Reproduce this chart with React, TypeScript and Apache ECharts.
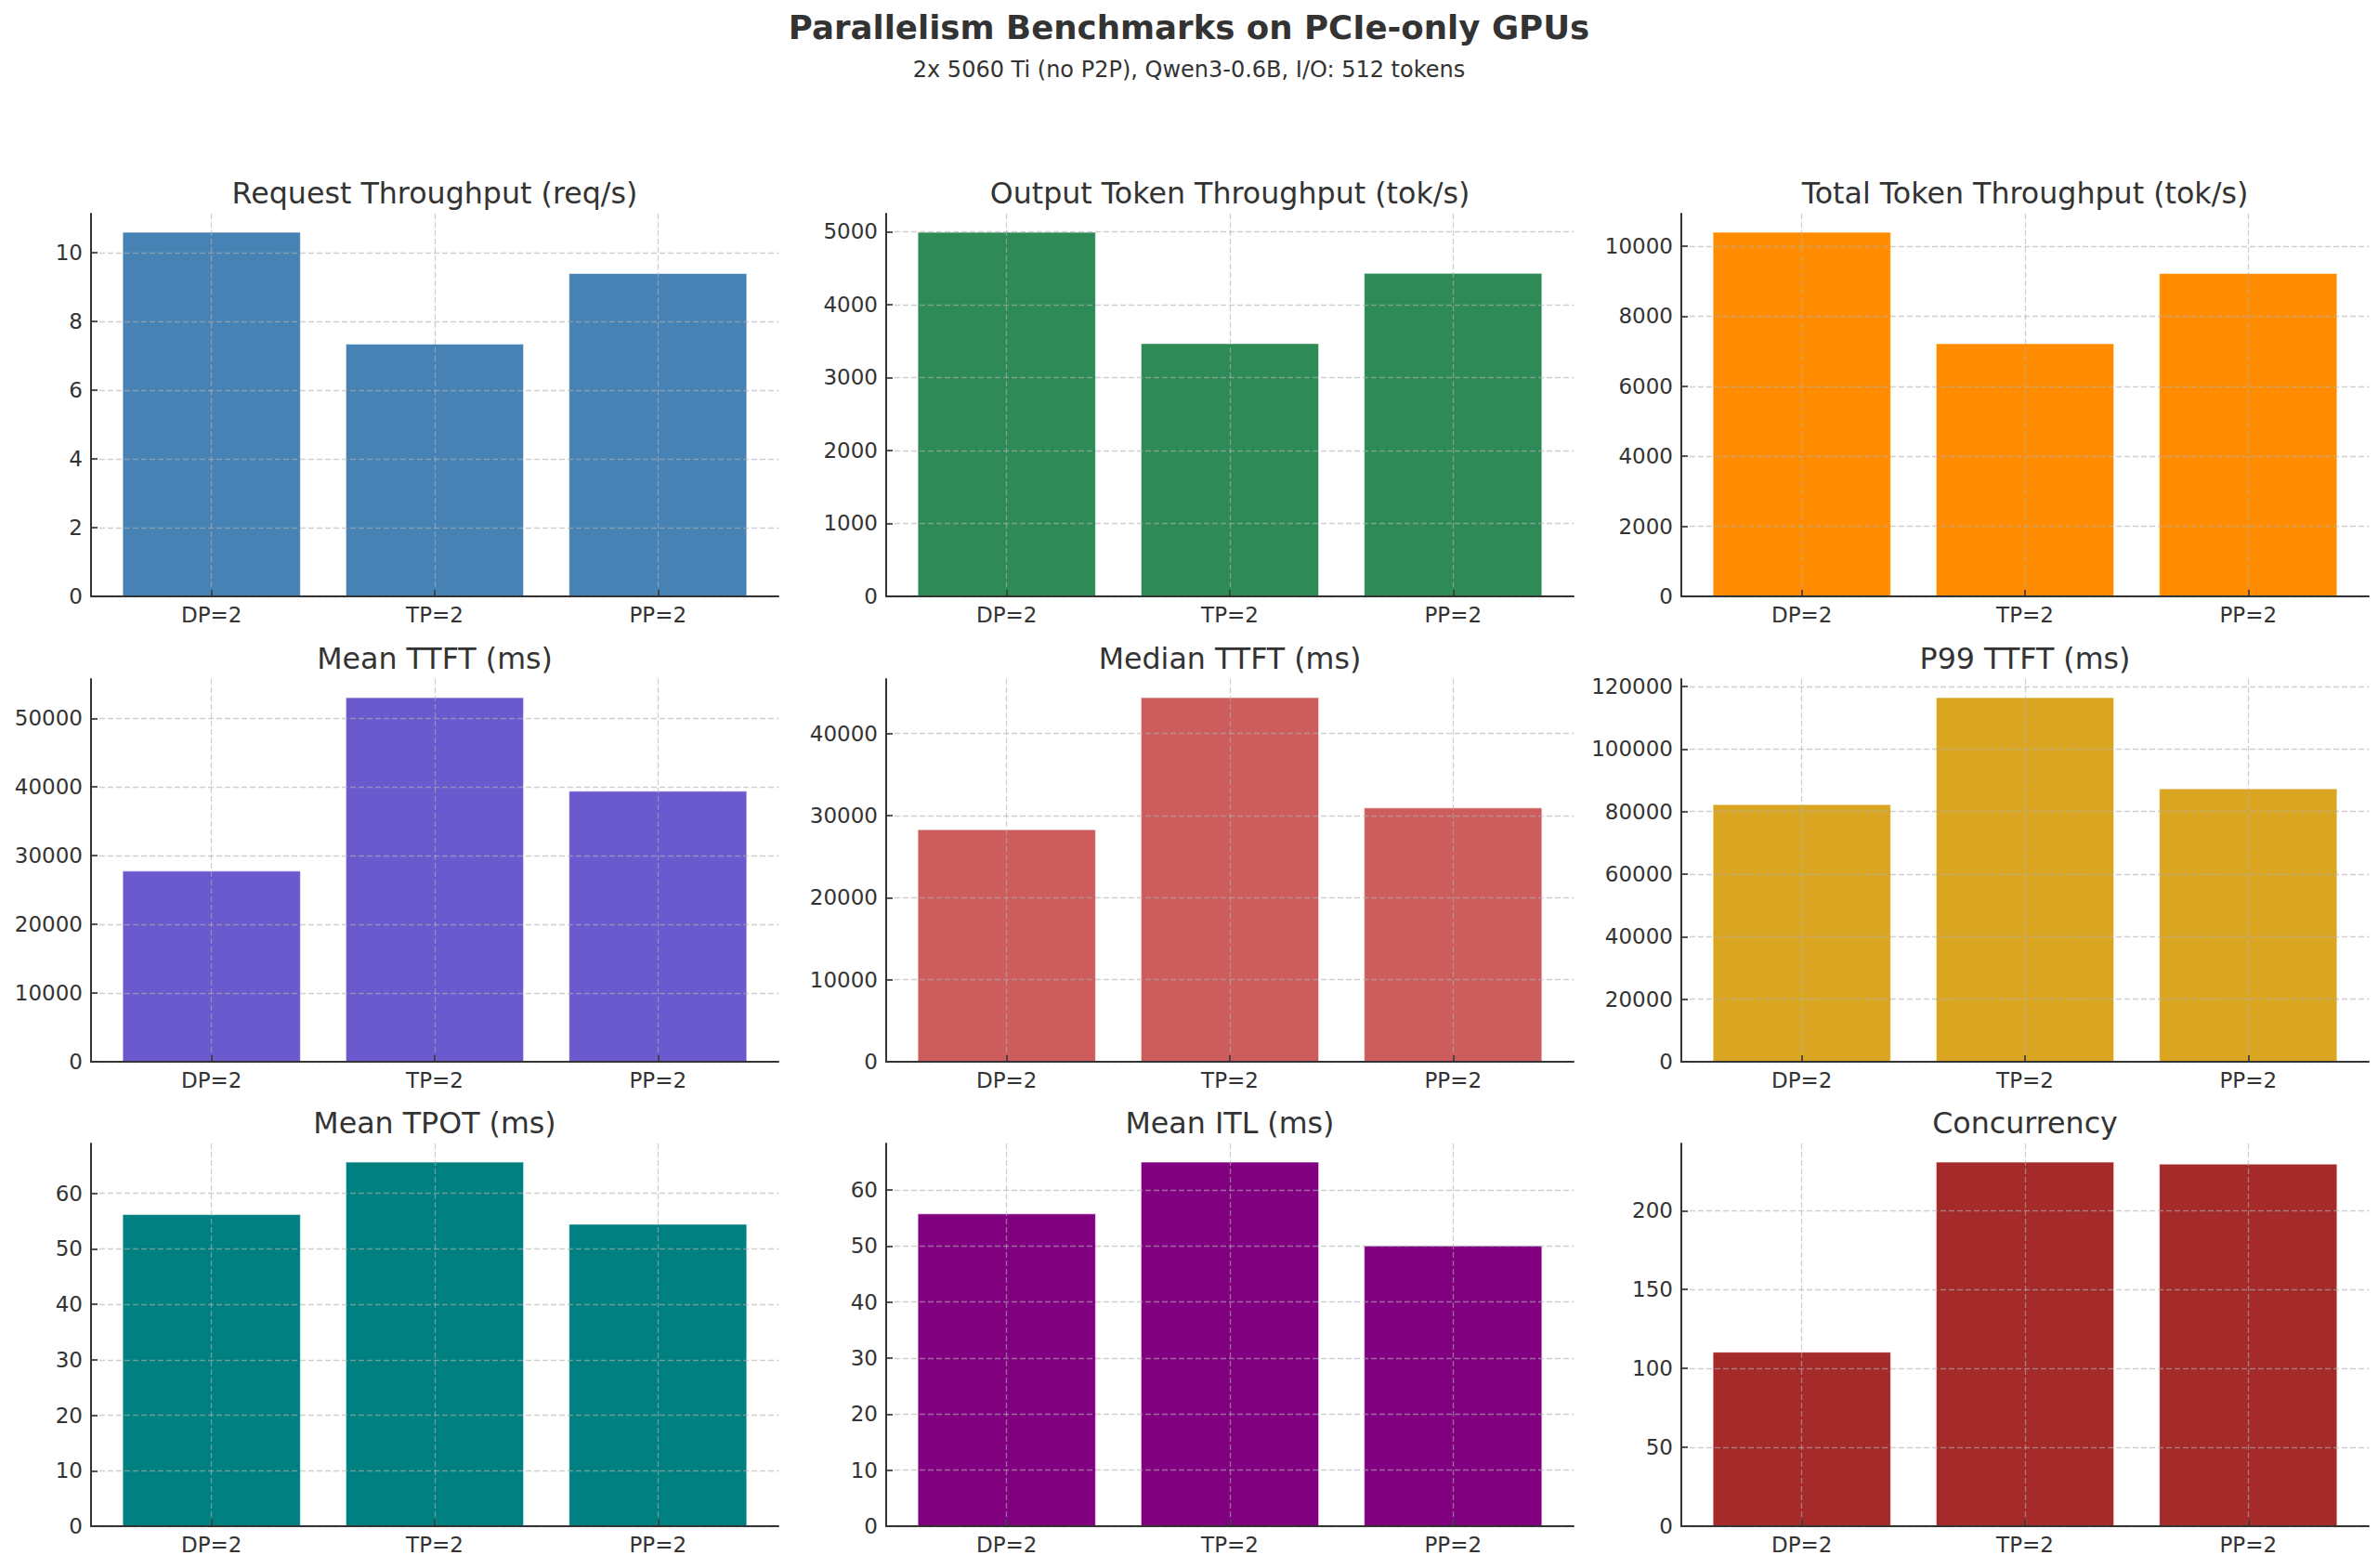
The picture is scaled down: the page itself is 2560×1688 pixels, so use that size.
import React, { useEffect, useRef } from "react";
import * as echarts from "echarts";

// ---- data ----
const categories = ["DP=2", "TP=2", "PP=2"];
const requestThroughput = [10.6, 7.35, 9.4];
const outputTokenThroughput = [4998, 3472, 4435];
const totalTokenThroughput = [10406, 7226, 9231];
const meanTTFT = [27818, 53066, 39450];
const medianTTFT = [28340, 44415, 30981];
const p99TTFT = [82376, 116535, 87426];
const meanTPOT = [56.25, 65.7, 54.5];
const meanITL = [55.8, 65.03, 50.1];
const concurrency = [110.6, 231.0, 229.8];

const reqTicks = [0, 2, 4, 6, 8, 10];
const outTicks = [0, 1000, 2000, 3000, 4000, 5000];
const totalTicks = [0, 2000, 4000, 6000, 8000, 10000];
const meanTTFTTicks = [0, 10000, 20000, 30000, 40000, 50000];
const medianTTFTTicks = [0, 10000, 20000, 30000, 40000];
const p99Ticks = [0, 20000, 40000, 60000, 80000, 100000, 120000];
const tpotTicks = [0, 10, 20, 30, 40, 50, 60];
const itlTicks = [0, 10, 20, 30, 40, 50, 60];
const concTicks = [0, 50, 100, 150, 200];

const titles = [
  "Request Throughput (req/s)",
  "Output Token Throughput (tok/s)",
  "Total Token Throughput (tok/s)",
  "Mean TTFT (ms)",
  "Median TTFT (ms)",
  "P99 TTFT (ms)",
  "Mean TPOT (ms)",
  "Mean ITL (ms)",
  "Concurrency",
];
const seriesValues = [
  requestThroughput,
  outputTokenThroughput,
  totalTokenThroughput,
  meanTTFT,
  medianTTFT,
  p99TTFT,
  meanTPOT,
  meanITL,
  concurrency,
];
const tickValues = [
  reqTicks,
  outTicks,
  totalTicks,
  meanTTFTTicks,
  medianTTFTTicks,
  p99Ticks,
  tpotTicks,
  itlTicks,
  concTicks,
];
const colors = [
  "#4682B4",
  "#2E8B57",
  "#FF8C00",
  "#6A5ACD",
  "#CD5C5C",
  "#DAA520",
  "#008080",
  "#800080",
  "#A52A2A",
];

// ---- layout ----
const W = 2560;
const H = 1688;
const COLS = [98, 954, 1810];
const COLW = 740;
const ROWS = [230, 731, 1231];
const ROWH = 412;
const XMIN = -0.54;
const XMAX = 2.54;
const FONT = "DejaVu Sans";
const TEXT = "#333333";
const TICKFONT = 23;
const GRIDLINE = {
  color: "rgba(176,176,176,0.6)",
  width: 1.3,
  type: [6, 3] as any,
};

function buildOption() {
  const grid: any[] = [];
  const xAxis: any[] = [];
  const yAxis: any[] = [];
  const series: any[] = [];
  const graphic: any[] = [
    {
      type: "text",
      x: W / 2,
      y: 29,
      style: {
        text: "Parallelism Benchmarks on PCIe-only GPUs",
        fontFamily: FONT,
        fontSize: 35.6,
        fontWeight: "bold",
        fill: TEXT,
        align: "center",
        verticalAlign: "middle",
      },
    },
    {
      type: "text",
      x: W / 2,
      y: 75,
      style: {
        text: "2x 5060 Ti (no P2P), Qwen3-0.6B, I/O: 512 tokens",
        fontFamily: FONT,
        fontSize: 24,
        fill: TEXT,
        align: "center",
        verticalAlign: "middle",
      },
    },
  ];
  const barWidth = (0.8 * COLW) / (XMAX - XMIN);

  for (let i = 0; i < 9; i++) {
    const r = Math.floor(i / 3);
    const c = i % 3;
    const vals = seriesValues[i];
    grid.push({
      left: COLS[c],
      top: ROWS[r],
      width: COLW,
      height: ROWH,
      containLabel: false,
      outerBoundsMode: "none",
    });
    xAxis.push({
      type: "value",
      gridIndex: i,
      min: XMIN,
      max: XMAX,
      z: 3,
      axisLine: { show: true, onZero: false, lineStyle: { color: TEXT, width: 2 } },
      axisTick: {
        show: true,
        inside: true,
        length: 7,
        customValues: [0, 1, 2],
        lineStyle: { color: TEXT, width: 1.6 },
      },
      axisLabel: {
        show: true,
        customValues: [0, 1, 2],
        formatter: (v: number) => categories[Math.round(v)],
        fontFamily: FONT,
        fontSize: TICKFONT,
        color: TEXT,
        margin: 8,
      },
      splitLine: { show: true, lineStyle: GRIDLINE },
    });
    yAxis.push({
      type: "value",
      gridIndex: i,
      min: 0,
      max: Math.max(...vals) * 1.05,
      z: 3,
      axisLine: { show: true, onZero: false, lineStyle: { color: TEXT, width: 2 } },
      axisTick: {
        show: true,
        inside: true,
        length: 7,
        customValues: tickValues[i],
        lineStyle: { color: TEXT, width: 1.6 },
      },
      axisLabel: {
        show: true,
        customValues: tickValues[i],
        formatter: (v: number) => String(v),
        fontFamily: FONT,
        fontSize: TICKFONT,
        color: TEXT,
        margin: 9,
      },
      splitLine: { show: true, lineStyle: GRIDLINE },
    });
    series.push({
      type: "bar",
      xAxisIndex: i,
      yAxisIndex: i,
      barWidth,
      data: vals.map((v, j) => [j, v]),
      itemStyle: {
        color: colors[i],
        borderColor: "rgba(255,255,255,0.55)",
        borderWidth: 1,
      },
      z: 2,
    });
    graphic.push({
      type: "text",
      x: COLS[c] + COLW / 2,
      y: ROWS[r] - 22,
      style: {
        text: titles[i],
        fontFamily: FONT,
        fontSize: 31.7,
        fill: TEXT,
        align: "center",
        verticalAlign: "middle",
      },
    });
  }

  return {
    animation: false,
    backgroundColor: "#ffffff",
    textStyle: { fontFamily: FONT },
    grid,
    xAxis,
    yAxis,
    series,
    graphic,
  };
}

export default function App() {
  const ref = useRef<HTMLDivElement>(null);
  useEffect(() => {
    if (!ref.current) return;
    const chart = echarts.init(ref.current, undefined, { renderer: "svg" });
    chart.setOption(buildOption() as any);
    return () => chart.dispose();
  }, []);
  return (
    <div
      ref={ref}
      style={{ position: "absolute", left: 0, top: 0, width: W, height: H, background: "#fff" }}
    />
  );
}
